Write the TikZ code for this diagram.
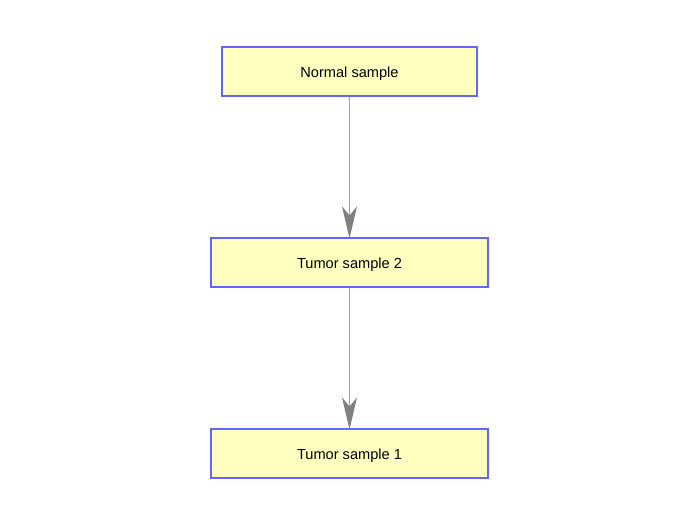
\documentclass[tikz,border=0pt]{standalone}
\usepackage{fontspec}
\setmainfont{Liberation Sans}
\usetikzlibrary{arrows.meta}
\definecolor{boxfill}{HTML}{FFFFC0}
\definecolor{boxline}{HTML}{6464FF}
\definecolor{edgeline}{HTML}{A0A0A0}
\definecolor{headfill}{HTML}{808080}

\begin{document}
\begin{tikzpicture}[x=1pt, y=-1pt,
  sample/.style = {draw=boxline, fill=boxfill, line width=1.1pt, minimum height=49pt, inner sep=0pt, text height=12.4pt, text depth=0pt, font=\fontsize{14.6}{16}\selectfont},
  link/.style = {draw=edgeline, line width=1.5pt, shorten >=-1pt, -{Stealth[length=32pt, width=15pt, inset=9pt, color=headfill]}}]
                \useasboundingbox (0,0) rectangle (700,525);
                \node[sample, minimum width=255pt] (normal) at (349.5,71.5) {Normal sample};
                \node[sample, minimum width=277pt] (tumor2) at (349.5,262.5) {Tumor sample 2};
                \node[sample, minimum width=277pt] (tumor1) at (349.5,453.5) {Tumor sample 1};
                \draw[link] (normal) -- (tumor2);
                \draw[link] (tumor2) -- (tumor1);
            \end{tikzpicture}
\end{document}
